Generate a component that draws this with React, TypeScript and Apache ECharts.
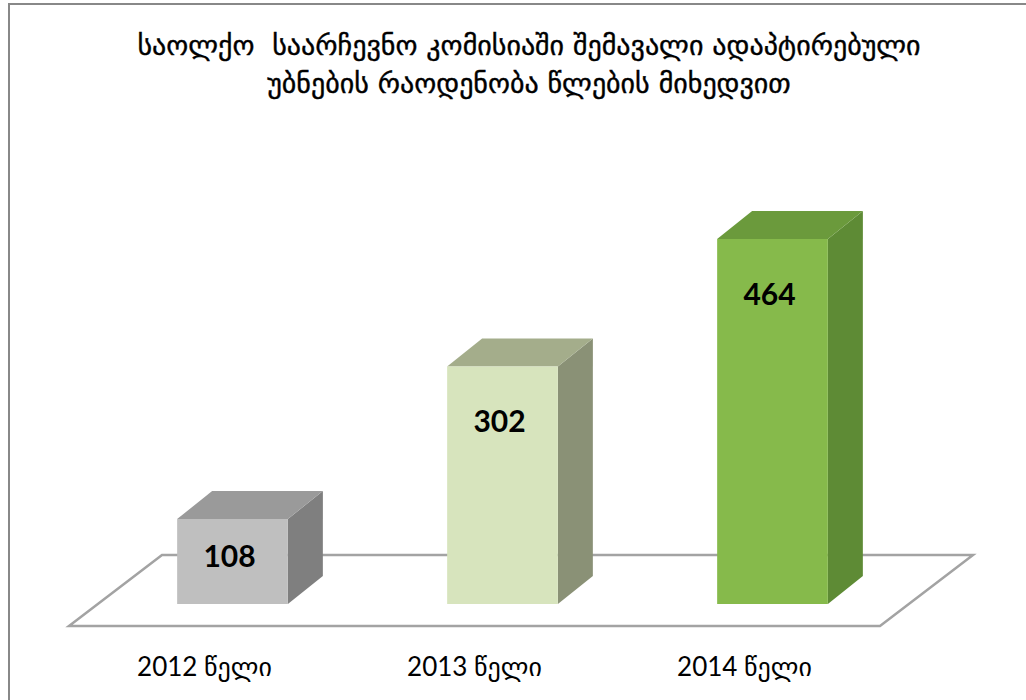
import React, { useEffect, useRef } from "react";
import * as echarts from "echarts";

const titleText =
  "საოლქო  საარჩევნო კომისიაში შემავალი ადაპტირებული\nუბნების რაოდენობა წლების მიხედვით";
const categories = ["2012 წელი", "2013 წელი", "2014 წელი"];
const values = [108, 302, 464];

const frontColors = ["#bfbfbf", "#d7e4bd", "#86ba4b"];
const topColors = ["#9a9a9a", "#a4ad8b", "#6b9a3c"];
const sideColors = ["#7f7f7f", "#8a9176", "#5e8b35"];

const DX = 35;
const DY = 28;

export default function App() {
  const ref = useRef<HTMLDivElement>(null);
  useEffect(() => {
    if (!ref.current) return;
    const chart = echarts.init(ref.current, undefined, { renderer: "svg" });
    const option: any = {
      animation: false,
      backgroundColor: "#ffffff",
      title: {
        text: titleText,
        left: 524,
        textAlign: "center",
        top: 21,
        textStyle: {
          fontFamily: "DejaVu Sans",
          fontSize: 28,
          fontWeight: "normal",
          color: "#000",
          lineHeight: 38,
          textBorderColor: "#000",
          textBorderWidth: 0.4,
        },
      },
      graphic: [
        {
          type: "rect",
          z: 100,
          shape: { x: 9, y: 4, width: 1200, height: 900 },
          style: { fill: "none", stroke: "#888888", lineWidth: 2 },
        },
      ],
      grid: { left: 97.5, right: 118.5, top: 132, bottom: 96 },
      xAxis: {
        type: "category",
        data: categories,
        axisLine: { show: false },
        axisTick: { show: false },
        axisLabel: {
          margin: 49,
          fontFamily: "Lato, DejaVu Sans",
          fontSize: 26,
          color: "#000",
          padding: [0, 56, 0, 0],
        },
      },
      yAxis: {
        type: "value",
        min: 0,
        max: 600,
        show: false,
        splitLine: { show: false },
      },
      series: [
        {
          type: "custom",
          z: 1,
          silent: true,
          data: [[0, 0]],
          renderItem: (params: any, api: any) => {
            const cs = params.coordSys;
            const l = cs.x;
            const r = cs.x + cs.width;
            const b = cs.y + cs.height;
            const backY = b - 49;
            const frontY = b + 22;
            return {
              type: "polygon",
              shape: {
                points: [
                  [l + 64.5, backY],
                  [r + 65.5, backY],
                  [r - 27.5, frontY],
                  [l - 28.5, frontY],
                ],
              },
              style: { fill: "#ffffff", stroke: "#a3a3a3", lineWidth: 2.5 },
            };
          },
        },
        {
          type: "custom",
          z: 2,
          data: values.map((v, i) => [i, v]),
          renderItem: (params: any, api: any) => {
            const i = params.dataIndex;
            const v = api.value(1);
            const top = api.coord([api.value(0), v]);
            const base = api.coord([api.value(0), 0]);
            const band = api.size([1, 0])[0];
            const w = band * 0.41;
            const x0 = top[0] - w / 2;
            const x1 = top[0] + w / 2;
            const yt = top[1];
            const yb = base[1];
            const h = yb - yt;
            return {
              type: "group",
              children: [
                {
                  type: "polygon",
                  shape: {
                    points: [
                      [x1, yt],
                      [x1 + DX, yt - DY],
                      [x1 + DX, yb - DY],
                      [x1, yb],
                    ],
                  },
                  style: { fill: sideColors[i] },
                },
                {
                  type: "polygon",
                  shape: {
                    points: [
                      [x0, yt],
                      [x0 + DX, yt - DY],
                      [x1 + DX, yt - DY],
                      [x1, yt],
                    ],
                  },
                  style: { fill: topColors[i] },
                },
                {
                  type: "rect",
                  shape: { x: x0, y: yt, width: w, height: h },
                  style: { fill: frontColors[i] },
                },
                {
                  type: "text",
                  style: {
                    text: String(v),
                    x: top[0] - 3,
                    y: yt + Math.min(54, h * 0.42),
                    align: "center",
                    verticalAlign: "middle",
                    fontFamily: "Lato",
                    fontWeight: "bold",
                    fontSize: 30,
                    fill: "#000",
                  },
                },
              ],
            };
          },
        },
      ],
    };
    chart.setOption(option);
    return () => chart.dispose();
  }, []);
  return (
    <div
      ref={ref}
      style={{ position: "absolute", left: 0, top: 0, width: 1026, height: 700 }}
    />
  );
}
